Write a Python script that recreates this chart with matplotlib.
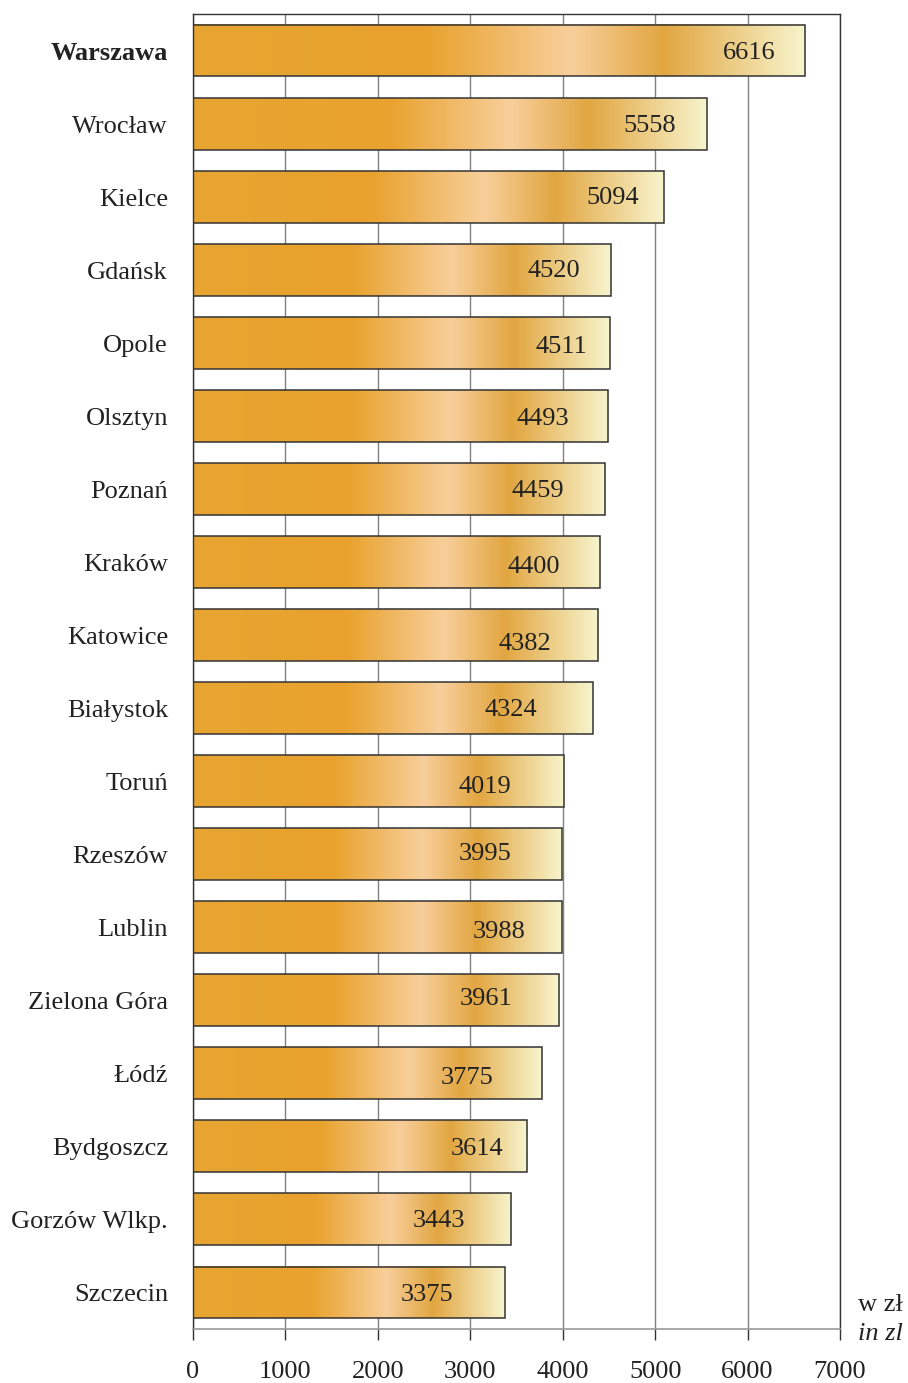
import numpy as np
import matplotlib
matplotlib.use("Agg")
import matplotlib.pyplot as plt
from matplotlib.colors import LinearSegmentedColormap
from matplotlib import transforms

# Average monthly gross wages by city
cities = ["Warszawa", "Wrocław", "Kielce", "Gdańsk", "Opole", "Olsztyn", "Poznań",
          "Kraków", "Katowice", "Białystok", "Toruń", "Rzeszów", "Lublin",
          "Zielona Góra", "Łódź", "Bydgoszcz", "Gorzów Wlkp.", "Szczecin"]
values = [6616, 5558, 5094, 4520, 4511, 4493, 4459, 4400, 4382, 4324,
          4019, 3995, 3988, 3961, 3775, 3614, 3443, 3375]
x_ticks = [0, 1000, 2000, 3000, 4000, 5000, 6000, 7000]

# label placement tweaks (value units back from bar end, points down)
label_dx = [600, 614, 550, 614, 530, 706, 726, 711, 790, 884,
            860, 836, 677, 791, 811, 541, 782, 843]
label_dy = [2, 2, 1, 1, 4, 3, 2, 5, 9, 2, 6, 0, 5, -1, 5, 3, 2, 3]

plt.rcParams["font.family"] = ["Liberation Serif", "DejaVu Serif"]

fig = plt.figure(figsize=(9.08, 13.83), dpi=100)
ax = fig.add_axes([193 / 908, 1 - 1329 / 1383, (840 - 193) / 908, (1329 - 14) / 1383])

cmap = LinearSegmentedColormap.from_list(
    "bar", [(0.0, "#E7A531"), (0.38, "#E9A22D"), (0.62, "#F8CF9B"),
            (0.77, "#E2A641"), (1.0, "#F7F4CC")])
grad = np.linspace(0, 1, 512).reshape(1, -1)

n = len(cities)
ypos = np.arange(n)
h = 0.71
for y, v in zip(ypos, values):
    ax.imshow(grad, cmap=cmap, aspect="auto", extent=(0, v, y + h / 2, y - h / 2),
              zorder=2, interpolation="bilinear")
ax.barh(ypos, values, height=h, facecolor="none", edgecolor="#333333",
        linewidth=1.1, zorder=3)

for y, v, dx, dy in zip(ypos, values, label_dx, label_dy):
    off = transforms.offset_copy(ax.transData, fig=fig, x=0, y=-dy * 0.72, units="points")
    ax.text(v - dx, y, f"{v}", transform=off, ha="center", va="center",
            fontsize=19, color="#222222", zorder=4)

ax.set_xlim(0, 7000)
ax.set_ylim(n - 0.5, -0.5)
ax.set_xticks(x_ticks)
ax.set_xticklabels([str(t) for t in x_ticks], fontsize=19, color="#222222")
ax.set_yticks(ypos)
ax.set_yticklabels([])
ax.tick_params(axis="y", length=0)
ax.tick_params(axis="x", length=8, width=1, color="#333333", pad=15, direction="out")

# city names, right-aligned left of the axis
name_tr = transforms.offset_copy(ax.get_yaxis_transform(), fig=fig,
                                 x=-25 * 0.72, y=-3 * 0.72, units="points")
for y, name in zip(ypos, cities):
    ax.text(0, y, name, transform=name_tr, ha="right", va="center",
            fontsize=19, color="#222222",
            fontweight="bold" if name == "Warszawa" else "normal")

ax.xaxis.grid(True, color="#808080", linewidth=1)
ax.set_axisbelow(True)
for side in ["top", "right", "left"]:
    ax.spines[side].set_color("#333333")
    ax.spines[side].set_linewidth(1)
ax.spines["bottom"].set_color("#999999")
ax.spines["bottom"].set_linewidth(1.2)

fig.text(858 / 908, 1 - 1305 / 1383, "w zł", fontsize=19, color="#222222",
         ha="left", va="center")
fig.text(858 / 908, 1 - 1334 / 1383, "in zl", fontsize=19, color="#222222",
         ha="left", va="center", style="italic")

fig.savefig("out.png", dpi=100)
